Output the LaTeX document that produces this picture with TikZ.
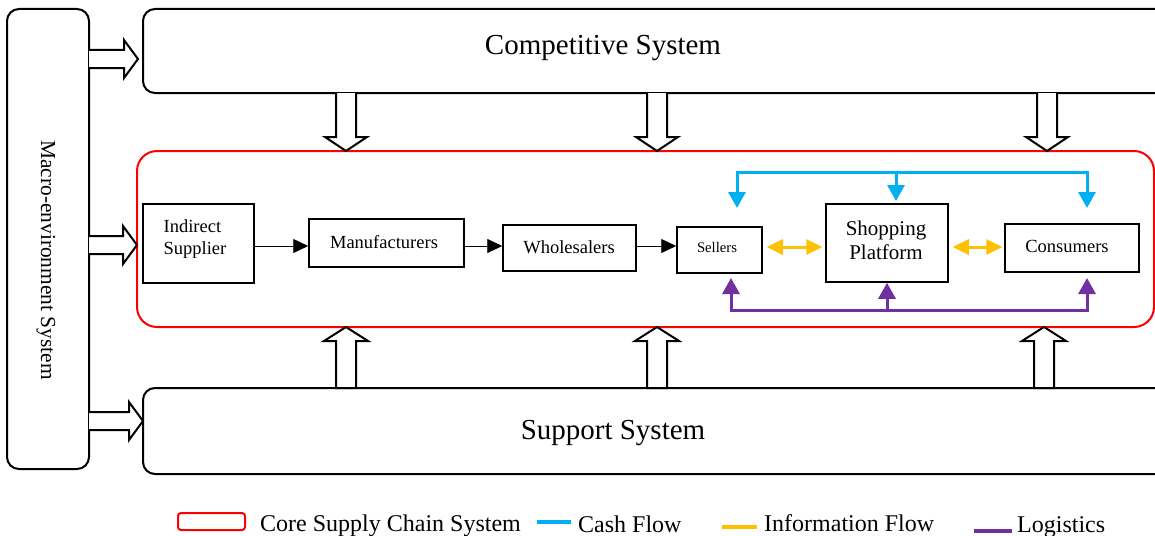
\documentclass[tikz,border=0pt]{standalone}
\usepackage{fontspec}
\setmainfont{Liberation Serif}
\usetikzlibrary{arrows.meta}
\definecolor{cashc}{HTML}{00B0F0}
\definecolor{infoc}{HTML}{FFC000}
\definecolor{logc}{HTML}{7030A0}
\newcommand{\blkdown}[3]{\draw[blkarrow] (#1-10,#2) -- (#1-10,#3-14) -- (#1-21,#3-14) -- (#1,#3) -- (#1+21,#3-14) -- (#1+10,#3-14) -- (#1+10,#2);}
\newcommand{\blkup}[3]{\draw[blkarrow] (#1-10,#2) -- (#1-10,#3+14) -- (#1-22,#3+14) -- (#1,#3) -- (#1+22,#3+14) -- (#1+10,#3+14) -- (#1+10,#2) -- cycle;}
\newcommand{\blkright}[3]{\draw[blkarrow] (#2,#1-9) -- (#3-14,#1-9) -- (#3-14,#1-19) -- (#3,#1) -- (#3-14,#1+19) -- (#3-14,#1+9) -- (#2,#1+9);}
\begin{document}
\begin{tikzpicture}[x=1pt,y=-1pt,
  sysbox/.style={draw,line width=2pt,rounded corners=12pt,fill=white},
  inbox/.style={draw,line width=1.5pt,inner sep=0pt,align=center,font=\fontsize{18.5}{22}\selectfont},
  txt/.style={inner sep=0pt,align=center},
  blkarrow/.style={draw,line width=2pt,fill=white,line join=miter},
  flow/.style={line width=0.8pt,-{Triangle[length=15pt,width=14pt]}},
  cash/.style={line width=3pt,draw=cashc,-{Triangle[length=16pt,width=17pt]}},
  info/.style={line width=3pt,draw=infoc,{Triangle[length=16pt,width=15pt]}-{Triangle[length=16pt,width=15pt]}},
  logi/.style={line width=3pt,draw=logc,-{Triangle[length=16pt,width=17pt]}},
  bigtxt/.style={font=\fontsize{29}{34}\selectfont},
  legtxt/.style={font=\fontsize{24}{28}\selectfont,anchor=base west,inner sep=0pt}
]
\path[use as bounding box,clip] (0,0) rectangle (1155,535);

% system boxes
\node[sysbox,minimum width=82pt,minimum height=460pt] (macro) at (48,239) {};
\node[sysbox,minimum width=1030pt,minimum height=84pt] (comp) at (658,51) {};
\node[sysbox,minimum width=1030pt,minimum height=86pt] (supp) at (658,431) {};
\node[draw=red,line width=2pt,rounded corners=20pt,minimum width=1017pt,minimum height=176pt] (core) at (645.5,239) {};

\node[font=\fontsize{21.4}{25}\selectfont,rotate=-90] (macrot) at (46,260) {Macro-environment System};
\node[bigtxt] (compt) at (603,48) {Competitive System};
\node[bigtxt] (suppt) at (613,433) {Support System};

% block arrows
\blkright{59}{89}{138}
\blkright{245}{89}{137}
\blkright{421}{89}{143}
\blkdown{346}{93}{151}
\blkdown{657}{93}{151}
\blkdown{1047}{93}{151}
\blkup{346}{388}{327}
\blkup{657}{388}{327}
\blkup{1044}{388}{327}

% inner nodes
\node[inbox,minimum width=111pt,minimum height=79pt] (ind) at (198.5,243.5) {};
\node[font=\fontsize{18.5}{22}\selectfont,align=left] (indt) at (195,239) {Indirect\\Supplier};
\node[inbox,minimum width=155pt,minimum height=48pt] (manu) at (386.5,243) {};
\node[txt,font=\fontsize{18.5}{22}\selectfont] (manut) at (384,242) {Manufacturers};
\node[inbox,minimum width=133pt,minimum height=46pt] (whole) at (569.5,248) {};
\node[txt,font=\fontsize{18.5}{22}\selectfont] (wholet) at (569,247) {Wholesalers};
\node[inbox,minimum width=85pt,minimum height=46pt] (sell) at (719.5,250) {};
\node[txt,font=\fontsize{14.7}{17}\selectfont] (sellt) at (717,247) {Sellers};
\node[inbox,minimum width=122pt,minimum height=78pt] (shop) at (887,243) {};
\node[txt,font=\fontsize{21}{24}\selectfont] (shopt) at (886,240) {Shopping\\Platform};
\node[inbox,minimum width=134pt,minimum height=48pt] (cons) at (1072,248) {};
\node[txt,font=\fontsize{18.5}{22}\selectfont] (const) at (1067,246) {Consumers};

\coordinate (ay) at (0,246);
\coordinate (iy) at (0,247);
\draw[flow] (ind.east |- ay) -- (manu.west |- ay);
\draw[flow] (manu.east |- ay) -- (whole.west |- ay);
\draw[flow] (whole.east |- ay) -- (sell.west |- ay);
\draw[info] ([xshift=4pt]sell.east |- iy) -- ([xshift=-3pt]shop.west |- iy);
\draw[info] ([xshift=4pt]shop.east |- iy) -- ([xshift=-2pt]cons.west |- iy);

% cash flow
\coordinate (c1) at (737,208);
\coordinate (c2) at (896,201);
\coordinate (c3) at (1087,208);
\coordinate (cy) at (0,172);
\draw[cash] (c1 |- cy) -- (c1);
\draw[cash,line cap=rect] (c1 |- cy) -- (c3 |- cy) -- (c3);
\draw[cash] (c2 |- cy) -- (c2);

% logistics
\coordinate (l1) at (731,278);
\coordinate (l3) at (1087,278);
\coordinate (ly) at (0,310);
\draw[logi] (l1 |- ly) -- (l1);
\draw[logi,line cap=rect] (l1 |- ly) -- (l3 |- ly) -- (l3);
\draw[logi] (shop.south |- ly) -- (shop.south);

% legend
\node[draw=red,line width=2pt,rounded corners=3pt,minimum width=67pt,minimum height=17pt,inner sep=0pt] (legcore) at (211.5,521.5) {};
\node[legtxt] (legcoret) at (260,531) {Core Supply Chain System};
\coordinate (lc1) at (537,522); \coordinate (lc2) at (571,522);
\draw[cashc,line width=3.5pt] (lc1) -- (lc2);
\node[legtxt] (legcasht) at (578,532) {Cash Flow};
\coordinate (li1) at (722,527); \coordinate (li2) at (757,527);
\draw[infoc,line width=3.5pt] (li1) -- (li2);
\node[legtxt] (leginfot) at (764,531) {Information Flow};
\coordinate (ll1) at (974,531); \coordinate (ll2) at (1012,531);
\draw[logc,line width=3.5pt] (ll1) -- (ll2);
\node[legtxt] (leglogt) at (1017,532) {Logistics};
\end{tikzpicture}
\end{document}
